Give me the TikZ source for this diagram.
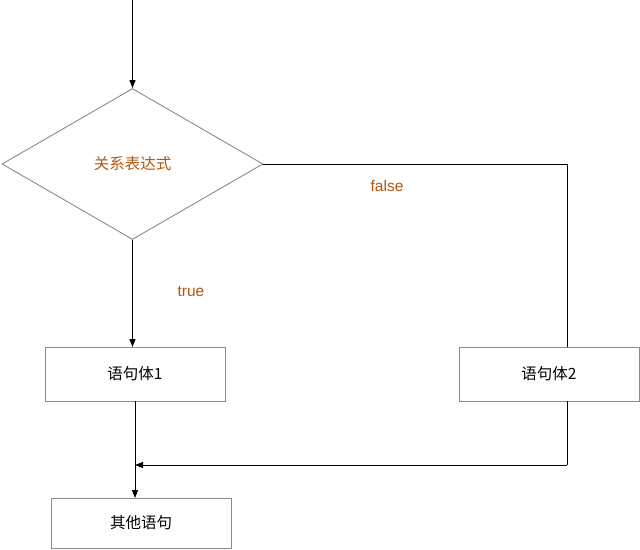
\documentclass[tikz,border=0pt]{standalone}
\usepackage{fontspec}
\setmainfont{Liberation Sans}
\newfontfamily\cjk{Noto Sans CJK SC}
\usetikzlibrary{shapes.geometric,arrows.meta}
\definecolor{lbl}{HTML}{B4560A}
\definecolor{edge}{HTML}{8A8A8A}
\begin{document}
\begin{tikzpicture}[x=1pt,y=-1pt,
  box/.style={draw=edge,line width=0.9pt,minimum width=180pt,minimum height=54pt,inner sep=0pt,font=\cjk\fontsize{15.5}{18}\selectfont},
  cond/.style={draw=edge,line width=0.9pt,shape=diamond,aspect=1.73,minimum width=261pt,minimum height=151pt,inner sep=0pt,text=lbl,font=\cjk\fontsize{15.5}{18}\selectfont},
  conn/.style={line width=0.9pt,black},
  arr/.style={conn,-{Triangle[length=8pt,width=6pt]}},
  tag/.style={text=lbl,font=\fontsize{15.5}{18}\selectfont}]
\useasboundingbox (0,0) rectangle (640,549);
\node[cond] (d) at (132.5,164) {关系表达式};
\node[box] (b1) at (135,374) {语句体1};
\node[box] (b2) at (549,374) {语句体2};
\node[box,minimum height=50pt] (b3) at (141,523) {其他语句};
\coordinate (s) at (132.5,0);
\coordinate (f1) at (567,164);
\coordinate (f2) at (567,347);
\coordinate (r1) at (567,401);
\coordinate (r2) at (567,465);
\coordinate (m) at (135,465);
\coordinate (t1) at (132.5,347);
\coordinate (o1) at (135,401);
\coordinate (o2) at (135,498);
\draw[arr] (s) -- (d.north);
\draw[arr] (d.south) -- (t1);
\draw[conn] (d.east) -- (f1) -- (f2);
\draw[conn] (r1) -- (r2);
\draw[arr] (r2) -- (m);
\draw[arr] (o1) -- (o2);
\node[tag] (tt) at (191,292) {true};
\node[tag] (tf) at (387,186) {false};
\end{tikzpicture}
\end{document}
